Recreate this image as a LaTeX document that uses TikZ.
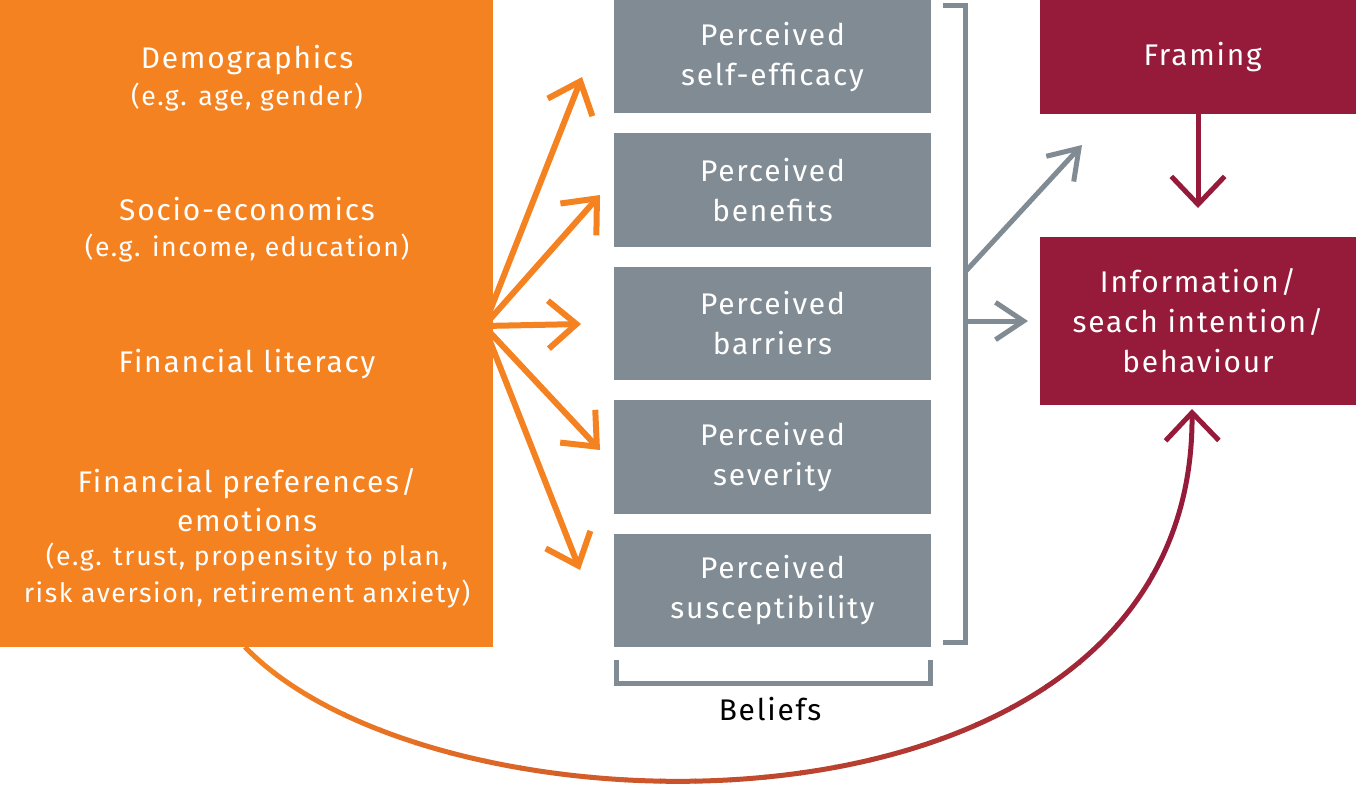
\documentclass[tikz,border=0pt]{standalone}
\usepackage{fontspec}
\setmainfont{Fira Sans}[LetterSpace=6]
\usetikzlibrary{arrows.meta}
\definecolor{orng}{HTML}{F58220}
\definecolor{gry}{HTML}{808B93}
\definecolor{wine}{HTML}{961A39}
\newcommand{\bigfnt}{\fontsize{22.4}{30}\selectfont}
\newcommand{\smallfnt}{\fontsize{20}{30}\selectfont}
\tikzset{
  box/.style={inner sep=0pt, outer sep=0pt, anchor=north west, text=white, align=center, font=\bigfnt},
  big/.style={text=white, anchor=base, font=\bigfnt, inner sep=0pt},
  small/.style={text=white, anchor=base, font=\smallfnt, inner sep=0pt},
  oarrow/.style={orng, line width=4.5pt, -{Straight Barb[length=21pt,width=36pt,sharp]}},
  garrow/.style={gry, line width=3.75pt, -{Straight Barb[length=21pt,width=28pt,sharp]}},
  warrow/.style={line width=3.75pt, -{Straight Barb[length=21pt,width=40pt,sharp]}},
  brk/.style={gry, line width=3.75pt, line join=miter},
}
\begin{document}
\begin{tikzpicture}[x=0.75pt,y=-0.75pt]
\useasboundingbox (0,0) rectangle (1356,790);
% left orange box
\node[box, fill=orng, minimum width=369.75pt, minimum height=485.25pt] (left) at (0,0) {};
\node[big] (t1) at (247,68) {Demographics};
\node[small] (t2) at (247,105) {(e.g. age, gender)};
\node[big] (t3) at (247,220) {Socio-economics};
\node[small] (t4) at (247,256) {(e.g. income, education)};
\node[big] (t5) at (247,372) {Financial literacy};
\node[big] (t6) at (247,492) {Financial preferences/};
\node[big] (t7) at (247,531) {emotions};
\node[small] (t8) at (247,565) {(e.g. trust, propensity to plan,};
\node[small] (t9) at (247,602) {risk aversion, retirement anxiety)};
% grey boxes
\begin{scope}[every node/.append style={box, fill=gry, minimum width=237.75pt, minimum height=85.05pt}]
\node (g1) at (614,0) {Perceived\\self-efficacy};
\node (g2) at (614,133.4) {Perceived\\benefits};
\node (g3) at (614,266.8) {Perceived\\barriers};
\node (g4) at (614,400.2) {Perceived\\severity};
\node (g5) at (614,533.6) {Perceived\\susceptibility};
\end{scope}
% red boxes
\node[box, fill=wine, minimum width=237pt, minimum height=85.5pt] (fr) at (1040,0) {\hspace{7pt}Framing};
\node[box, fill=wine, minimum width=237pt, minimum height=126pt] (info) at (1040,237) {Information/\\seach intention/\\behaviour};
% brackets
\draw[brk] (943,5) -- (965,5) -- (965,642) -- (943,642);
\draw[brk] (616,660) -- (616,683) -- (930,683) -- (930,660);
\node[anchor=base, font=\bigfnt, inner sep=0pt] (bel) at (770,720) {Beliefs};
% orange arrows
\coordinate (src) at (484,326);
\coordinate (o1) at (582,77);
\coordinate (o2) at (600,195);
\coordinate (o3) at (581,324);
\coordinate (o4) at (600,450);
\coordinate (o5) at (580,570);
\foreach \i in {1,...,5} \draw[oarrow] (src) -- (o\i);
% grey arrows
\coordinate (b1) at (965,272);
\coordinate (b2) at (965,321);
\coordinate (gt) at (1082,145);
\draw[garrow] (b1) -- (gt);
\draw[garrow, shorten >=9pt] (b2) -- (b2 -| info.west);
% red arrow
\draw[warrow, wine, shorten >=21.75pt] (fr.south) -- (info.north);
% curved arrow (orange to wine gradient, drawn in vertical strips)
\coordinate (cs) at (245,647);
\coordinate (ce) at (1192,409);
\foreach \i in {0,...,25}{
  \pgfmathsetmacro{\p}{min(100,max(0,((240+35*(\i+0.5))-245)/9.45))}
  \begin{scope}
    \clip (240+35*\i,400) rectangle (276+35*\i,790);
    \draw[warrow, wine!\p!orng] (cs) .. controls (440,850) and (1195,860) .. (ce);
  \end{scope}
}
\begin{scope}
  \clip (1150,380) rectangle (1356,790);
  \draw[warrow, wine] (cs) .. controls (440,850) and (1195,860) .. (ce);
\end{scope}
\end{tikzpicture}
\end{document}
